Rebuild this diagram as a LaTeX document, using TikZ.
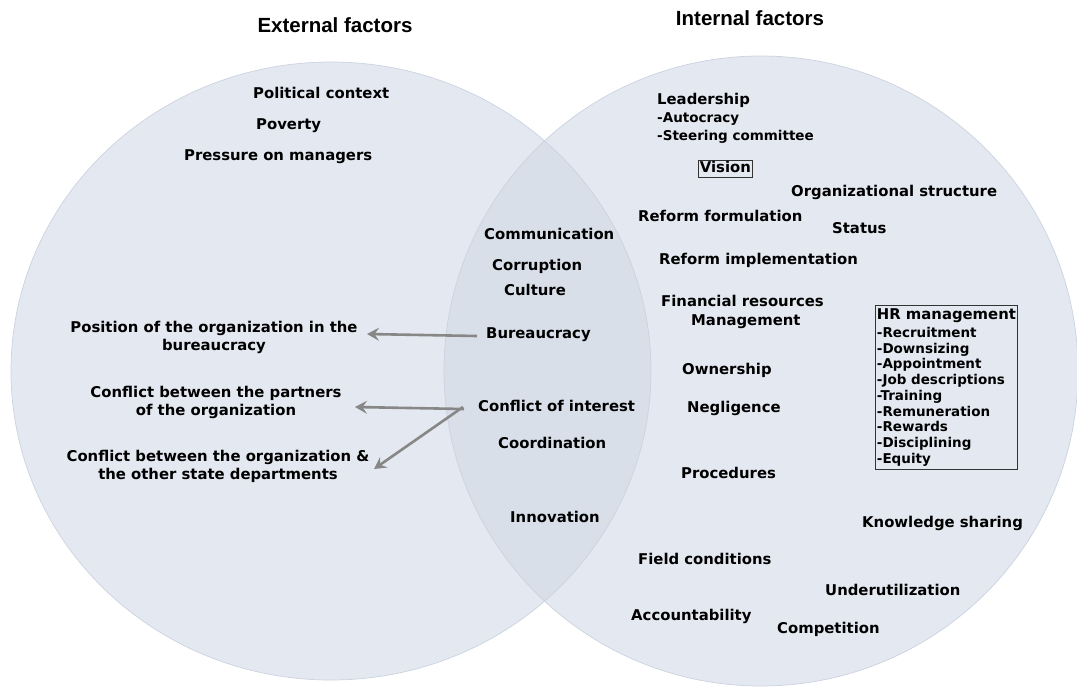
\documentclass[tikz,border=0pt]{standalone}
\usepackage{fontspec}
\setmainfont{DejaVu Sans}
\newfontfamily\titlefont{Liberation Sans}
\usetikzlibrary{arrows.meta}
\definecolor{venn}{RGB}{228,232,240}
\definecolor{vennmid}{RGB}{217,223,233}
\definecolor{vennline}{RGB}{203,211,224}
\definecolor{arrgray}{RGB}{135,135,135}
\tikzset{
  lbl/.style={inner sep=0pt, anchor=west, text height=10.8pt, text depth=3.4pt, font=\fontsize{14.85}{17.6}\selectfont\bfseries},
  ctr/.style={inner sep=0pt, anchor=center, align=center, font=\fontsize{14.85}{18}\selectfont\bfseries},
  sub/.style={inner sep=0pt, anchor=west, text height=9.8pt, text depth=3.1pt, font=\fontsize{13.5}{15.8}\selectfont\bfseries},
  ttl/.style={inner sep=0pt, anchor=center, font=\titlefont\fontsize{20.5}{24}\selectfont\bfseries},
  boxed/.style={draw=black!80, line width=0.8pt},
  arr/.style={draw=arrgray, line width=2.6pt, -{Stealth[length=12pt,width=13pt,inset=4.5pt]}}
}
\begin{document}
\begin{tikzpicture}[x=1pt,y=-1pt]
\useasboundingbox (0,0) rectangle (1077,689);
% circles
\fill[venn] (331,371) ellipse [x radius=320, y radius=309];
\fill[venn] (761,371) ellipse [x radius=317, y radius=315];
\begin{scope}
  \clip (331,371) ellipse [x radius=320, y radius=309];
  \fill[vennmid] (761,371) ellipse [x radius=317, y radius=315];
\end{scope}
\draw[vennline, line width=0.7pt] (331,371) ellipse [x radius=320, y radius=309];
\draw[vennline, line width=0.7pt] (761,371) ellipse [x radius=317, y radius=315];

% titles
\node[ttl] (ext) at (335,25) {External factors};
\node[ttl] (int) at (750,18) {Internal factors};

% external
\node[lbl] (pol) at (253,95) {Political context};
\node[lbl] (pov) at (256,126) {Poverty};
\node[lbl] (pre) at (184,157) {Pressure on managers};
\node[ctr] (pos) at (214,337) {Position of the organization in the\\bureaucracy};
\node[ctr] (cbp) at (216,402.5) {Conflict between the partners\\of the organization};
\node[ctr] (cbo) at (218,466) {Conflict between the organization \&\\the other state departments};

% overlap
\node[lbl] (com) at (484,236) {Communication};
\node[lbl] (cor) at (492,267) {Corruption};
\node[lbl] (cul) at (504,292) {Culture};
\node[lbl] (bur) at (486,335) {Bureaucracy};
\node[lbl] (coi) at (478,408) {Conflict of interest};
\node[lbl] (coo) at (498,445) {Coordination};
\node[lbl] (inn) at (510,519) {Innovation};

% internal
\node[lbl] (lea) at (657,101) {Leadership};
\node[sub] (aut) at (657,119) {-Autocracy};
\node[sub] (ste) at (657,137) {-Steering committee};
\node[lbl, boxed, inner sep=1.5pt] (vis) at (698,169) {Vision};
\node[lbl] (org) at (791,193) {Organizational structure};
\node[lbl] (rff) at (638,218) {Reform formulation};
\node[lbl] (sta) at (832,230) {Status};
\node[lbl] (rfi) at (659,261) {Reform implementation};
\node[lbl] (fin) at (661,303) {Financial resources};
\node[lbl] (man) at (691,322) {Management};
\node[lbl] (own) at (682,371) {Ownership};
\node[lbl] (neg) at (687,409) {Negligence};
\node[lbl] (pro) at (681,475) {Procedures};
\node[lbl] (kno) at (862,524) {Knowledge sharing};
\node[lbl] (fie) at (638,561) {Field conditions};
\node[lbl] (und) at (825,592) {Underutilization};
\node[lbl] (acc) at (631,617) {Accountability};
\node[lbl] (cmp) at (777,630) {Competition};

% HR box
\node[boxed, anchor=north west, inner xsep=1.5pt, inner ysep=3.3pt, align=left, font=\fontsize{13.5}{15.75}\selectfont\bfseries] (hr) at (875,305)
  {{\fontsize{14.85}{15.75}\selectfont HR management}\\[2pt]-Recruitment\\-Downsizing\\-Appointment\\-Job descriptions\\-Training\\-Remuneration\\-Rewards\\-Disciplining\\-Equity};

% arrows
\coordinate (tA) at (367,334);
\coordinate (tB) at (355,407);
\coordinate (tC) at (374,469);
\draw[arr] ([xshift=-9pt,yshift=-1pt]bur.west) -- (tA);
\draw[arr] ([xshift=-14pt,yshift=-1pt]coi.west) -- (tB);
\draw[arr] ([xshift=-15pt,yshift=1pt]coi.west) -- (tC);
\end{tikzpicture}
\end{document}
